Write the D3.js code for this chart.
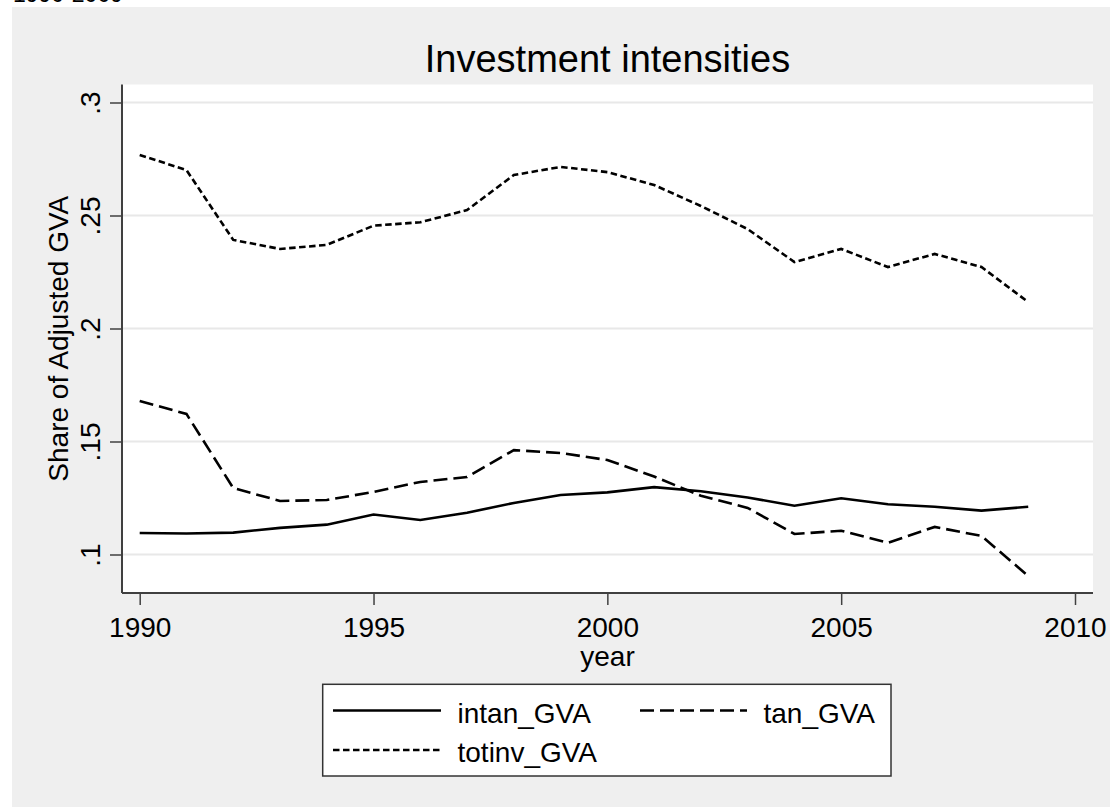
<!doctype html>
<html lang="en">
<head>
    <meta charset="utf-8">
    <title>Investment intensities</title>
    <style>
        body {
            margin: 0;
            background: #fff;
        }

        svg text {
            font-family: "Liberation Sans", Arial, sans-serif;
            fill: #000;
        }

        .grid line {
            stroke: #e8e8e8;
            stroke-width: 2.2;
        }

        .axis .tick line {
            stroke: #404040;
            stroke-width: 1.5;
        }
    </style>
</head>

<body>
<svg id="chart" width="1110" height="807"></svg>

<script src="https://d3js.org/d3.v7.min.js"></script>
<script>

    // values
    let years = [1990, 1991, 1992, 1993, 1994, 1995, 1996, 1997, 1998, 1999,
                 2000, 2001, 2002, 2003, 2004, 2005, 2006, 2007, 2008, 2009];

    let intanGVA = [0.1095, 0.1093, 0.1097, 0.1118, 0.1132, 0.1177, 0.1153, 0.1185, 0.1228, 0.1263,
                    0.1275, 0.1298, 0.1280, 0.1252, 0.1216, 0.1249, 0.1222, 0.1211, 0.1194, 0.1211];

    let tanGVA = [0.1679, 0.1622, 0.1294, 0.1237, 0.1241, 0.1277, 0.1321, 0.1343, 0.1462, 0.1449,
                  0.1418, 0.1345, 0.1260, 0.1206, 0.1091, 0.1105, 0.1052, 0.1122, 0.1082, 0.0905];

    let totinvGVA = [0.2768, 0.2701, 0.2392, 0.2352, 0.2370, 0.2455, 0.2470, 0.2524, 0.2679, 0.2715,
                     0.2692, 0.2635, 0.2542, 0.2440, 0.2294, 0.2352, 0.2272, 0.2330, 0.2272, 0.2117];

    let xTicks = [1990, 1995, 2000, 2005, 2010];
    let yTicks = [0.1, 0.15, 0.2, 0.25, 0.3];

    let seriesNames = ["intan_GVA", "tan_GVA", "totinv_GVA"];
    let seriesDash = [null, "14,6", "6.5,3.5"];

    let svg = d3.select("#chart");

    // plot region
    let plot = {left: 122, right: 1093, top: 84.5, bottom: 593};

    // gray page background
    svg.append("rect")
        .attr("x", 12).attr("y", 7)
        .attr("width", 1110 - 12).attr("height", 807 - 7)
        .attr("fill", "#efefef");

    // note line at the very top, mostly cut off
    svg.append("text")
        .attr("x", 13).attr("y", 2)
        .style("font-size", "23px")
        .text("1990-2009");

    svg.append("rect")
        .attr("x", plot.left).attr("y", plot.top)
        .attr("width", plot.right - plot.left).attr("height", plot.bottom - plot.top)
        .attr("fill", "#fff");

    let x = d3.scaleLinear()
        .domain([1990, 2010])
        .range([139.7, 1075]);

    let y = d3.scaleLinear()
        .domain([0.1, 0.3])
        .range([554.5, 102.5]);

    // gridlines
    svg.append("g")
        .attr("class", "grid")
        .selectAll("line")
        .data(yTicks).enter()
        .append("line")
        .attr("x1", plot.left).attr("x2", plot.right)
        .attr("y1", d => y(d)).attr("y2", d => y(d));

    let fmt = function (d) {
        return d3.format(".2~f")(d).replace(/^0/, "");
    };

    // y axis
    let yAxis = svg.append("g")
        .attr("class", "axis")
        .attr("transform", "translate(" + plot.left + ",0)")
        .call(d3.axisLeft(y).tickValues(yTicks).tickSize(12).tickFormat(fmt));
    yAxis.select(".domain").remove();
    yAxis.selectAll("text")
        .attr("x", 0).attr("dy", 0)
        .attr("text-anchor", "middle")
        .attr("transform", "translate(-22,0) rotate(-90)")
        .style("font-size", "28px")
        .style("font-family", "'Liberation Sans', Arial, sans-serif");

    // x axis
    let xAxis = svg.append("g")
        .attr("class", "axis")
        .attr("transform", "translate(0," + plot.bottom + ")")
        .call(d3.axisBottom(x).tickValues(xTicks).tickSize(12).tickFormat(d3.format("d")));
    xAxis.select(".domain").remove();
    xAxis.selectAll("text")
        .attr("y", 44).attr("dy", 0)
        .style("font-size", "28px")
        .style("font-family", "'Liberation Sans', Arial, sans-serif");

    // axis lines
    svg.append("line")
        .attr("x1", plot.left).attr("x2", plot.left)
        .attr("y1", plot.top).attr("y2", plot.bottom)
        .attr("stroke", "#404040").attr("stroke-width", 2);
    svg.append("line")
        .attr("x1", plot.left).attr("x2", plot.right)
        .attr("y1", plot.bottom).attr("y2", plot.bottom)
        .attr("stroke", "#404040").attr("stroke-width", 2);

    // series
    let line = d3.line()
        .x((d, i) => x(years[i]))
        .y(d => y(d));

    [intanGVA, tanGVA, totinvGVA].forEach(function (vals, k) {
        svg.append("path")
            .datum(vals)
            .attr("d", line)
            .attr("fill", "none")
            .attr("stroke", "#000")
            .attr("stroke-width", 2.6)
            .attr("stroke-dasharray", seriesDash[k]);
    });

    // titles
    svg.append("text")
        .attr("x", (plot.left + plot.right) / 2).attr("y", 71.7)
        .attr("text-anchor", "middle")
        .style("font-size", "38px")
        .text("Investment intensities");

    svg.append("text")
        .attr("transform", "translate(68," + (plot.top + plot.bottom) / 2 + ") rotate(-90)")
        .attr("text-anchor", "middle")
        .style("font-size", "28px")
        .text("Share of Adjusted GVA");

    svg.append("text")
        .attr("x", (plot.left + plot.right) / 2).attr("y", 666)
        .attr("text-anchor", "middle")
        .style("font-size", "28px")
        .text("year");

    // legend
    svg.append("rect")
        .attr("x", 322.7).attr("y", 684.3)
        .attr("width", 891 - 322.7).attr("height", 776 - 684.3)
        .attr("fill", "#fff")
        .attr("stroke", "#333").attr("stroke-width", 1.5);

    let legendPos = [
        {x1: 333, x2: 441, ly: 710.5, tx: 457.5, ty: 722.5},
        {x1: 640, x2: 747, ly: 710.5, tx: 763.5, ty: 722.5},
        {x1: 333, x2: 441, ly: 750, tx: 457.5, ty: 761.5}
    ];

    seriesNames.forEach(function (name, k) {
        let p = legendPos[k];
        svg.append("line")
            .attr("x1", p.x1).attr("x2", p.x2)
            .attr("y1", p.ly).attr("y2", p.ly)
            .attr("stroke", "#000")
            .attr("stroke-width", 2.6)
            .attr("stroke-dasharray", seriesDash[k]);
        svg.append("text")
            .attr("x", p.tx).attr("y", p.ty)
            .style("font-size", "28px")
            .text(name);
    });

</script>
</body>
</html>
